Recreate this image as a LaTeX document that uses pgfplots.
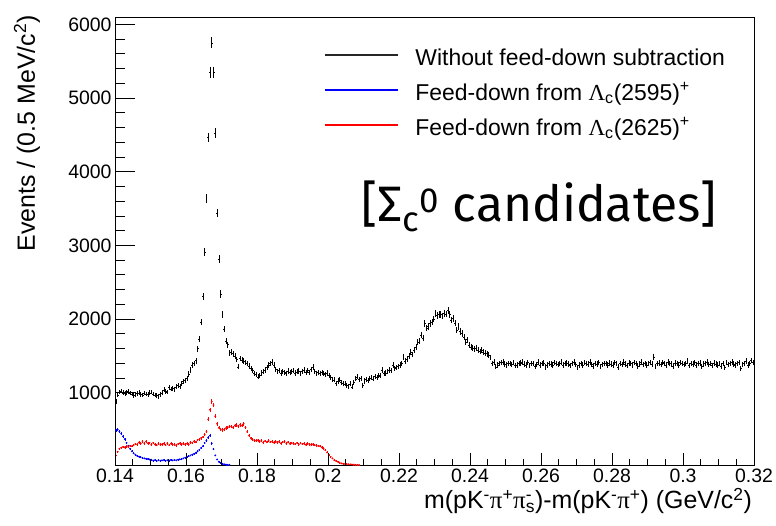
\documentclass[border=0pt]{standalone}
\usepackage{fontspec}
\setmainfont{Liberation Sans}
\newfontfamily\grk{Liberation Serif}
\newfontfamily\bigf{Fira Sans}
\usepackage{pgfplots}
\usepackage{pgfplotstable}
\pgfplotsset{compat=1.18}

\pgfplotstableread[row sep=\\]{
x y \\
0.14025 880 \\ 0.14075 970 \\ 0.14125 1010 \\ 0.14175 1025 \\ 0.14225 1000 \\ 0.14275 990 \\ 0.14325 1005 \\ 0.14375 1015 \\ 0.14425 995 \\ 0.14475 985 \\
0.14525 960 \\ 0.14575 975 \\ 0.14625 990 \\ 0.14675 1000 \\ 0.14725 980 \\ 0.14775 970 \\ 0.14825 995 \\ 0.14875 985 \\ 0.14925 975 \\ 0.14975 1000 \\
0.15025 1010 \\ 0.15075 985 \\ 0.15125 970 \\ 0.15175 965 \\ 0.15225 950 \\ 0.15275 975 \\ 0.15325 1000 \\ 0.15375 1040 \\ 0.15425 1020 \\ 0.15475 1010 \\
0.15525 1075 \\ 0.15575 1050 \\ 0.15625 1060 \\ 0.15675 1045 \\ 0.15725 1080 \\ 0.15775 1100 \\ 0.15825 1090 \\ 0.15875 1130 \\ 0.15925 1150 \\ 0.15975 1170 \\
0.16025 1195 \\ 0.16075 1254 \\ 0.16125 1308 \\ 0.16175 1375 \\ 0.16225 1400 \\ 0.16275 1435 \\ 0.16325 1600 \\ 0.16375 1725 \\ 0.16425 1960 \\ 0.16475 2312 \\
0.16525 2905 \\ 0.16575 3640 \\ 0.16625 4465 \\ 0.16675 5350 \\ 0.16725 5750 \\ 0.16775 5350 \\ 0.16825 4520 \\ 0.16875 3440 \\ 0.16925 2815 \\ 0.16975 2340 \\
0.17025 2065 \\ 0.17075 1865 \\ 0.17125 1700 \\ 0.17175 1655 \\ 0.17225 1535 \\ 0.17275 1550 \\ 0.17325 1530 \\ 0.17375 1500 \\ 0.17425 1450 \\ 0.17475 1353 \\
0.17525 1467 \\ 0.17575 1445 \\ 0.17625 1430 \\ 0.17675 1410 \\ 0.17725 1399 \\ 0.17775 1365 \\ 0.17825 1330 \\ 0.17875 1300 \\ 0.17925 1265 \\ 0.17975 1250 \\
0.18025 1217 \\ 0.18075 1240 \\ 0.18125 1270 \\ 0.18175 1285 \\ 0.18225 1310 \\ 0.18275 1345 \\ 0.18325 1380 \\ 0.18375 1400 \\ 0.18425 1421 \\ 0.18475 1380 \\
0.18525 1320 \\ 0.18575 1285 \\ 0.18625 1300 \\ 0.18675 1270 \\ 0.18725 1290 \\ 0.18775 1280 \\ 0.18825 1260 \\ 0.18875 1295 \\ 0.18925 1275 \\ 0.18975 1290 \\
0.19025 1300 \\ 0.19075 1270 \\ 0.19125 1285 \\ 0.19175 1295 \\ 0.19225 1265 \\ 0.19275 1290 \\ 0.19325 1310 \\ 0.19375 1280 \\ 0.19425 1300 \\ 0.19475 1275 \\
0.19525 1320 \\ 0.19575 1350 \\ 0.19625 1290 \\ 0.19675 1265 \\ 0.19725 1280 \\ 0.19775 1260 \\ 0.19825 1275 \\ 0.19875 1265 \\ 0.19925 1250 \\ 0.19975 1270 \\
0.20025 1240 \\ 0.20075 1210 \\ 0.20125 1180 \\ 0.20175 1175 \\ 0.20225 1130 \\ 0.20275 1160 \\ 0.20325 1175 \\ 0.20375 1140 \\ 0.20425 1125 \\ 0.20475 1120 \\
0.20525 1100 \\ 0.20575 1081 \\ 0.20625 1120 \\ 0.20675 1081 \\ 0.20725 1140 \\ 0.20775 1190 \\ 0.20825 1217 \\ 0.20875 1180 \\ 0.20925 1195 \\ 0.20975 1105 \\
0.21025 1160 \\ 0.21075 1180 \\ 0.21125 1170 \\ 0.21175 1195 \\ 0.21225 1210 \\ 0.21275 1190 \\ 0.21325 1220 \\ 0.21375 1205 \\ 0.21425 1230 \\ 0.21475 1240 \\
0.21525 1308 \\ 0.21575 1260 \\ 0.21625 1270 \\ 0.21675 1290 \\ 0.21725 1310 \\ 0.21775 1300 \\ 0.21825 1376 \\ 0.21875 1330 \\ 0.21925 1345 \\ 0.21975 1360 \\
0.22025 1376 \\ 0.22075 1400 \\ 0.22125 1489 \\ 0.22175 1430 \\ 0.22225 1460 \\ 0.22275 1500 \\ 0.22325 1556 \\ 0.22375 1520 \\ 0.22425 1580 \\ 0.22475 1620 \\
0.22525 1692 \\ 0.22575 1700 \\ 0.22625 1783 \\ 0.22675 1740 \\ 0.22725 1942 \\ 0.22775 1880 \\ 0.22825 1900 \\ 0.22875 1942 \\ 0.22925 1960 \\ 0.22975 2000 \\
0.23025 2077 \\ 0.23075 2050 \\ 0.23125 2060 \\ 0.23175 2065 \\ 0.23225 2040 \\ 0.23275 2080 \\ 0.23325 2070 \\ 0.23375 2122 \\ 0.23425 2060 \\ 0.23475 1987 \\
0.23525 2010 \\ 0.23575 1950 \\ 0.23625 1851 \\ 0.23675 1900 \\ 0.23725 1830 \\ 0.23775 1806 \\ 0.23825 1760 \\ 0.23875 1692 \\ 0.23925 1720 \\ 0.23975 1650 \\
0.24025 1620 \\ 0.24075 1602 \\ 0.24125 1590 \\ 0.24175 1610 \\ 0.24225 1579 \\ 0.24275 1560 \\ 0.24325 1575 \\ 0.24375 1556 \\ 0.24425 1540 \\ 0.24475 1530 \\
0.24525 1512 \\ 0.24575 1480 \\ 0.24625 1399 \\ 0.24675 1420 \\ 0.24725 1353 \\ 0.24775 1380 \\ 0.24825 1400 \\ 0.24875 1410 \\ 0.24925 1421 \\ 0.24975 1390 \\
0.25025 1375 \\ 0.25075 1400 \\ 0.25125 1399 \\ 0.25175 1385 \\ 0.25225 1410 \\ 0.25275 1370 \\ 0.25325 1376 \\ 0.25375 1395 \\ 0.25425 1405 \\ 0.25475 1421 \\
0.25525 1390 \\ 0.25575 1380 \\ 0.25625 1410 \\ 0.25675 1370 \\ 0.25725 1395 \\ 0.25775 1400 \\ 0.25825 1360 \\ 0.25875 1385 \\ 0.25925 1420 \\ 0.25975 1375 \\
0.26025 1395 \\ 0.26075 1405 \\ 0.26125 1350 \\ 0.26175 1380 \\ 0.26225 1400 \\ 0.26275 1390 \\ 0.26325 1375 \\ 0.26375 1410 \\ 0.26425 1395 \\ 0.26475 1385 \\
0.26525 1400 \\ 0.26575 1415 \\ 0.26625 1380 \\ 0.26675 1395 \\ 0.26725 1405 \\ 0.26775 1390 \\ 0.26825 1370 \\ 0.26875 1400 \\ 0.26925 1420 \\ 0.26975 1385 \\
0.27025 1340 \\ 0.27075 1375 \\ 0.27125 1395 \\ 0.27175 1380 \\ 0.27225 1410 \\ 0.27275 1400 \\ 0.27325 1390 \\ 0.27375 1420 \\ 0.27425 1385 \\ 0.27475 1365 \\
0.27525 1400 \\ 0.27575 1390 \\ 0.27625 1410 \\ 0.27675 1355 \\ 0.27725 1385 \\ 0.27775 1400 \\ 0.27825 1395 \\ 0.27875 1375 \\ 0.27925 1405 \\ 0.27975 1390 \\
0.28025 1380 \\ 0.28075 1410 \\ 0.28125 1395 \\ 0.28175 1350 \\ 0.28225 1400 \\ 0.28275 1385 \\ 0.28325 1415 \\ 0.28375 1390 \\ 0.28425 1370 \\ 0.28475 1405 \\
0.28525 1395 \\ 0.28575 1380 \\ 0.28625 1410 \\ 0.28675 1400 \\ 0.28725 1365 \\ 0.28775 1390 \\ 0.28825 1420 \\ 0.28875 1385 \\ 0.28925 1395 \\ 0.28975 1375 \\
0.29025 1400 \\ 0.29075 1410 \\ 0.29125 1390 \\ 0.29175 1489 \\ 0.29225 1360 \\ 0.29275 1395 \\ 0.29325 1405 \\ 0.29375 1385 \\ 0.29425 1410 \\ 0.29475 1395 \\
0.29525 1380 \\ 0.29575 1420 \\ 0.29625 1400 \\ 0.29675 1390 \\ 0.29725 1365 \\ 0.29775 1405 \\ 0.29825 1395 \\ 0.29875 1380 \\ 0.29925 1410 \\ 0.29975 1400 \\
0.30025 1385 \\ 0.30075 1395 \\ 0.30125 1430 \\ 0.30175 1370 \\ 0.30225 1400 \\ 0.30275 1390 \\ 0.30325 1410 \\ 0.30375 1380 \\ 0.30425 1395 \\ 0.30475 1405 \\
0.30525 1360 \\ 0.30575 1390 \\ 0.30625 1400 \\ 0.30675 1415 \\ 0.30725 1385 \\ 0.30775 1395 \\ 0.30825 1370 \\ 0.30875 1405 \\ 0.30925 1390 \\ 0.30975 1380 \\
0.31025 1400 \\ 0.31075 1365 \\ 0.31125 1395 \\ 0.31175 1340 \\ 0.31225 1410 \\ 0.31275 1385 \\ 0.31325 1400 \\ 0.31375 1420 \\ 0.31425 1390 \\ 0.31475 1375 \\
0.31525 1395 \\ 0.31575 1410 \\ 0.31625 1330 \\ 0.31675 1385 \\ 0.31725 1400 \\ 0.31775 1430 \\ 0.31825 1380 \\ 0.31875 1395 \\ 0.31925 1440 \\ 0.31975 1410 \\
}\blackdata

\pgfplotstableread[row sep=\\]{
x y \\
0.14025 150 \\ 0.14075 200 \\ 0.14125 240 \\ 0.14175 255 \\ 0.14225 265 \\ 0.14275 260 \\ 0.14325 270 \\ 0.14375 265 \\ 0.14425 280 \\ 0.14475 275 \\
0.14525 290 \\ 0.14575 305 \\ 0.14625 300 \\ 0.14675 325 \\ 0.14725 310 \\ 0.14775 335 \\ 0.14825 315 \\ 0.14875 340 \\ 0.14925 315 \\ 0.14975 320 \\
0.15025 295 \\ 0.15075 320 \\ 0.15125 300 \\ 0.15175 290 \\ 0.15225 315 \\ 0.15275 295 \\ 0.15325 300 \\ 0.15375 310 \\ 0.15425 290 \\ 0.15475 315 \\
0.15525 290 \\ 0.15575 310 \\ 0.15625 295 \\ 0.15675 300 \\ 0.15725 285 \\ 0.15775 305 \\ 0.15825 315 \\ 0.15875 295 \\ 0.15925 310 \\ 0.15975 300 \\
0.16025 310 \\ 0.16075 300 \\ 0.16125 325 \\ 0.16175 320 \\ 0.16225 340 \\ 0.16275 330 \\ 0.16325 360 \\ 0.16375 365 \\ 0.16425 385 \\ 0.16475 400 \\
0.16525 430 \\ 0.16575 470 \\ 0.16625 640 \\ 0.16675 770 \\ 0.16725 880 \\ 0.16775 833 \\ 0.16825 680 \\ 0.16875 580 \\ 0.16925 525 \\ 0.16975 505 \\
0.17025 495 \\ 0.17075 500 \\ 0.17125 520 \\ 0.17175 530 \\ 0.17225 540 \\ 0.17275 545 \\ 0.17325 530 \\ 0.17375 555 \\ 0.17425 560 \\ 0.17475 545 \\
0.17525 565 \\ 0.17575 555 \\ 0.17625 580 \\ 0.17675 530 \\ 0.17725 470 \\ 0.17775 420 \\ 0.17825 385 \\ 0.17875 365 \\ 0.17925 355 \\ 0.17975 350 \\
0.18025 355 \\ 0.18075 335 \\ 0.18125 350 \\ 0.18175 325 \\ 0.18225 345 \\ 0.18275 330 \\ 0.18325 350 \\ 0.18375 330 \\ 0.18425 340 \\ 0.18475 325 \\
0.18525 340 \\ 0.18575 325 \\ 0.18625 335 \\ 0.18675 315 \\ 0.18725 330 \\ 0.18775 340 \\ 0.18825 315 \\ 0.18875 330 \\ 0.18925 310 \\ 0.18975 320 \\
0.19025 315 \\ 0.19075 305 \\ 0.19125 320 \\ 0.19175 300 \\ 0.19225 318 \\ 0.19275 305 \\ 0.19325 310 \\ 0.19375 295 \\ 0.19425 312 \\ 0.19475 300 \\
0.19525 295 \\ 0.19575 300 \\ 0.19625 290 \\ 0.19675 285 \\ 0.19725 280 \\ 0.19775 277 \\ 0.19825 260 \\ 0.19875 245 \\ 0.19925 222 \\ 0.19975 190 \\
0.20025 155 \\ 0.20075 131 \\ 0.20125 110 \\ 0.20175 87 \\ 0.20225 75 \\ 0.20275 64 \\ 0.20325 52 \\ 0.20375 42 \\ 0.20425 38 \\ 0.20475 35 \\
0.20525 33 \\ 0.20575 30 \\ 0.20625 28 \\ 0.20675 27 \\ 0.20725 25 \\ 0.20775 23 \\ 0.20825 22 \\ 0.20875 21 \\
}\reddata

\pgfplotstableread[row sep=\\]{
x y \\
0.14025 490 \\ 0.14075 500 \\ 0.14125 475 \\ 0.14175 445 \\ 0.14225 410 \\ 0.14275 370 \\ 0.14325 320 \\ 0.14375 280 \\ 0.14425 240 \\ 0.14475 205 \\
0.14525 180 \\ 0.14575 160 \\ 0.14625 145 \\ 0.14675 135 \\ 0.14725 125 \\ 0.14775 115 \\ 0.14825 110 \\ 0.14875 105 \\ 0.14925 100 \\ 0.14975 95 \\
0.15025 90 \\ 0.15075 80 \\ 0.15125 86 \\ 0.15175 76 \\ 0.15225 85 \\ 0.15275 78 \\ 0.15325 83 \\ 0.15375 88 \\ 0.15425 76 \\ 0.15475 84 \\
0.15525 80 \\ 0.15575 88 \\ 0.15625 82 \\ 0.15675 90 \\ 0.15725 84 \\ 0.15775 92 \\ 0.15825 96 \\ 0.15875 100 \\ 0.15925 110 \\ 0.15975 120 \\
0.16025 131 \\ 0.16075 140 \\ 0.16125 150 \\ 0.16175 160 \\ 0.16225 170 \\ 0.16275 185 \\ 0.16325 205 \\ 0.16375 225 \\ 0.16425 250 \\ 0.16475 275 \\
0.16525 320 \\ 0.16575 350 \\ 0.16625 390 \\ 0.16675 420 \\ 0.16725 313 \\ 0.16775 235 \\ 0.16825 150 \\ 0.16875 95 \\ 0.16925 65 \\ 0.16975 48 \\
0.17025 36 \\ 0.17075 30 \\ 0.17125 26 \\ 0.17175 23 \\ 0.17225 21 \\
}\bluedata

\begin{document}
\begin{tikzpicture}
\path[use as bounding box] (0,0) rectangle (776bp,526bp);
\begin{axis}[
  at={(115bp,61bp)}, anchor=south west,
  width=639bp, height=448bp, scale only axis,
  xmin=0.14, xmax=0.32, ymin=20, ymax=6100,
  axis line style={line width=0.9bp},
  xtick=\empty,
  ytick={1000,2000,3000,4000,5000,6000},
  minor y tick num=4,
  major tick length=20bp, minor tick length=10bp,
  tick pos=left, tick align=inside,
  tick style={black, line width=0.8bp},
  tick label style={font=\fontsize{19.5}{20}\selectfont},
  /pgf/number format/assume math mode=true,
  /pgf/number format/1000 sep={},
  xlabel={m(pK\textsuperscript{-}{\grk π}\textsuperscript{+}{\grk π}\rlap{\textsuperscript{-}}\textsubscript{s})-m(pK\textsuperscript{-}{\grk π}\textsuperscript{+}) (GeV/c\textsuperscript{2})},
  xlabel style={at={(axis description cs:0.997,-0.0982)}, anchor=base east, inner sep=0pt, font=\fontsize{25}{25}\selectfont},
  ylabel={Events / (0.5 MeV/c\textsuperscript{2})},
  ylabel style={at={(axis description cs:-0.1252,1.004)}, anchor=base east, inner sep=0pt, font=\fontsize{25}{25}\selectfont},
  legend cell align=left,
  legend style={at={(axis description cs:0.329,0.9464)}, anchor=north west,
    draw=none, fill=none, inner sep=0pt, row sep=0pt,
    font=\fontsize{23}{23}\selectfont,
    nodes={inner sep=0pt, text height=24bp, text depth=11bp},
    /tikz/every odd column/.append style={column sep=0pt}},
]
\addlegendimage{empty legend}
\addlegendentry{\hspace*{90bp}Without feed-down subtraction}
\addlegendimage{empty legend}
\addlegendentry{\hspace*{90bp}Feed-down from {\grk Λ}\textsubscript{c}(2595)\textsuperscript{+}}
\addlegendimage{empty legend}
\addlegendentry{\hspace*{90bp}Feed-down from {\grk Λ}\textsubscript{c}(2625)\textsuperscript{+}}

\addplot[forget plot, draw=none, mark=none,
  error bars/.cd, y dir=both, y explicit, x dir=both, x fixed=0.00025,
  error mark=none, error bar style={draw=black, line width=0.5bp}]
  table[x=x, y=y, y error expr={sqrt(\thisrow{y})}] {\blackdata};
\addplot[forget plot, only marks, mark=*, mark size=0.7bp, blue,
  error bars/.cd, y dir=both, y explicit,
  error mark=none, error bar style={blue, line width=0.5bp}]
  table[x=x, y=y, y error expr={sqrt(\thisrow{y})}] {\bluedata};
\addplot[forget plot, only marks, mark=*, mark size=0.7bp, red,
  error bars/.cd, y dir=both, y explicit,
  error mark=none, error bar style={red, line width=0.5bp}]
  table[x=x, y=y, y error expr={sqrt(\thisrow{y})}] {\reddata};

\draw[black!85, line width=1.1bp] (axis description cs:0.3286,0.9152) -- (axis description cs:0.4429,0.9152);
\draw[blue, line width=1.1bp] (axis description cs:0.3286,0.8371) -- (axis description cs:0.4429,0.8371);
\draw[red, line width=1.1bp] (axis description cs:0.3286,0.7589) -- (axis description cs:0.4429,0.7589);

\node[anchor=base, inner sep=0pt, font=\bigf\fontsize{50}{50}\selectfont]
  at (axis description cs:0.6635,0.5446) {[Σ\textsubscript{c}\textsuperscript{0} candidates]};
\end{axis}
\begin{axis}[
  at={(115bp,61bp)}, anchor=south west,
  width=639bp, height=448bp, scale only axis,
  xmin=0.14, xmax=0.32, ymin=20, ymax=6100,
  axis line style={draw=none},
  ytick=\empty,
  xtick={0.14,0.16,0.18,0.2,0.22,0.24,0.26,0.28,0.3,0.32},
  xticklabels={0.14,0.16,0.18,0.2,0.22,0.24,0.26,0.28,0.3,0.32},
  minor x tick num=3,
  major tick length=12bp, minor tick length=6bp,
  tick pos=left, tick align=inside,
  tick style={black, line width=0.8bp},
  tick label style={font=\fontsize{19.5}{20}\selectfont},
]
\end{axis}
\end{tikzpicture}
\end{document}
